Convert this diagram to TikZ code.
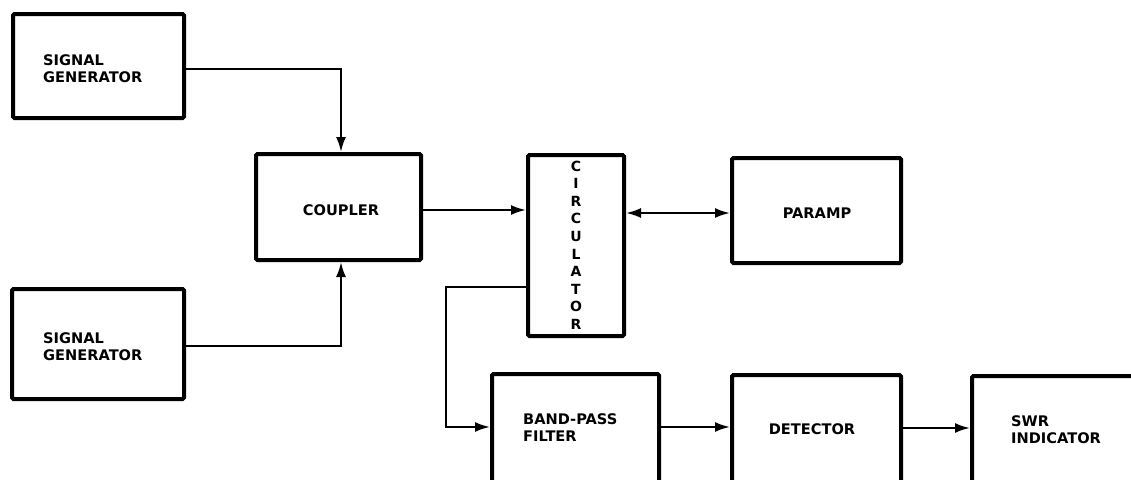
\documentclass[tikz,border=0pt]{standalone}
\usepackage{fontspec}
\setmainfont{DejaVu Sans}
\usetikzlibrary{arrows.meta}
\tikzset{
  box/.style={draw, line width=4pt, rounded corners=1.5pt, inner sep=0pt},
  lbl/.style={font=\bfseries\fontsize{14.6}{17}\selectfont, inner sep=0pt, align=left},
  conn/.style={line width=2.2pt, -{Latex[length=15pt,width=10pt]}},
  biconn/.style={line width=2.2pt, {Latex[length=15pt,width=10pt]}-{Latex[length=15pt,width=10pt]}}
}
\begin{document}
\begin{tikzpicture}[x=1pt,y=-1pt]
\useasboundingbox (0,0) rectangle (1131,479);
\clip (0,0) rectangle (1131,479);
% boxes
\node[box, minimum width=171pt, minimum height=104pt] (sg1) at (98.5,66) {};
\node[box, minimum width=172pt, minimum height=110pt] (sg2) at (98,344) {};
\node[box, minimum width=165pt, minimum height=106pt] (cpl) at (338.5,207) {};
\node[box, minimum width=96pt, minimum height=181pt] (circ) at (576,245.5) {};
\node[box, minimum width=169pt, minimum height=105pt] (pa) at (816.5,210.5) {};
\node[box, minimum width=167pt, minimum height=130pt] (bpf) at (575.5,439) {};
\node[box, minimum width=169pt, minimum height=130pt] (det) at (816.5,440) {};
\node[box, minimum width=200pt, minimum height=130pt] (swr) at (1072,441) {};
% labels
\node[lbl, anchor=west] (tsg1) at (43,68.5) {SIGNAL\\GENERATOR};
\node[lbl, anchor=west] (tsg2) at (43,346.5) {SIGNAL\\GENERATOR};
\node[lbl] (tcpl) at (341,210) {COUPLER};
\node[lbl, align=center, font=\bfseries\fontsize{14}{17.6}\selectfont] (tcirc) at (576,245) {C\\I\\R\\C\\U\\L\\A\\T\\O\\R};
\node[lbl] (tpa) at (817,213) {PARAMP};
\node[lbl, anchor=west] (tbpf) at (523,427.5) {BAND-PASS\\FILTER};
\node[lbl] (tdet) at (812,429) {DETECTOR};
\node[lbl, anchor=west] (tswr) at (1011,429.5) {SWR\\INDICATOR};
% connectors
\draw[conn] ([yshift=-3pt]sg1.east) -| ([xshift=2.5pt]cpl.north);
\draw[conn] ([yshift=-2pt]sg2.east) -| ([xshift=2.5pt]cpl.south);
\draw[conn] ([yshift=-3pt]cpl.east) -- ([yshift=-3pt]cpl.east -| circ.west);
\draw[biconn] ([yshift=-2.5pt]pa.west -| circ.east) -- ([yshift=-2.5pt]pa.west);
\draw[conn] ([yshift=-41.5pt]circ.west) -| ([xshift=-44pt,yshift=12pt]bpf.west) -- ([yshift=12pt]bpf.west);
\draw[conn] ([yshift=12pt]bpf.east) -- ([yshift=12pt]bpf.east -| det.west);
\draw[conn] ([yshift=12pt]det.east) -- ([yshift=12pt]det.east -| swr.west);
\end{tikzpicture}
\end{document}
